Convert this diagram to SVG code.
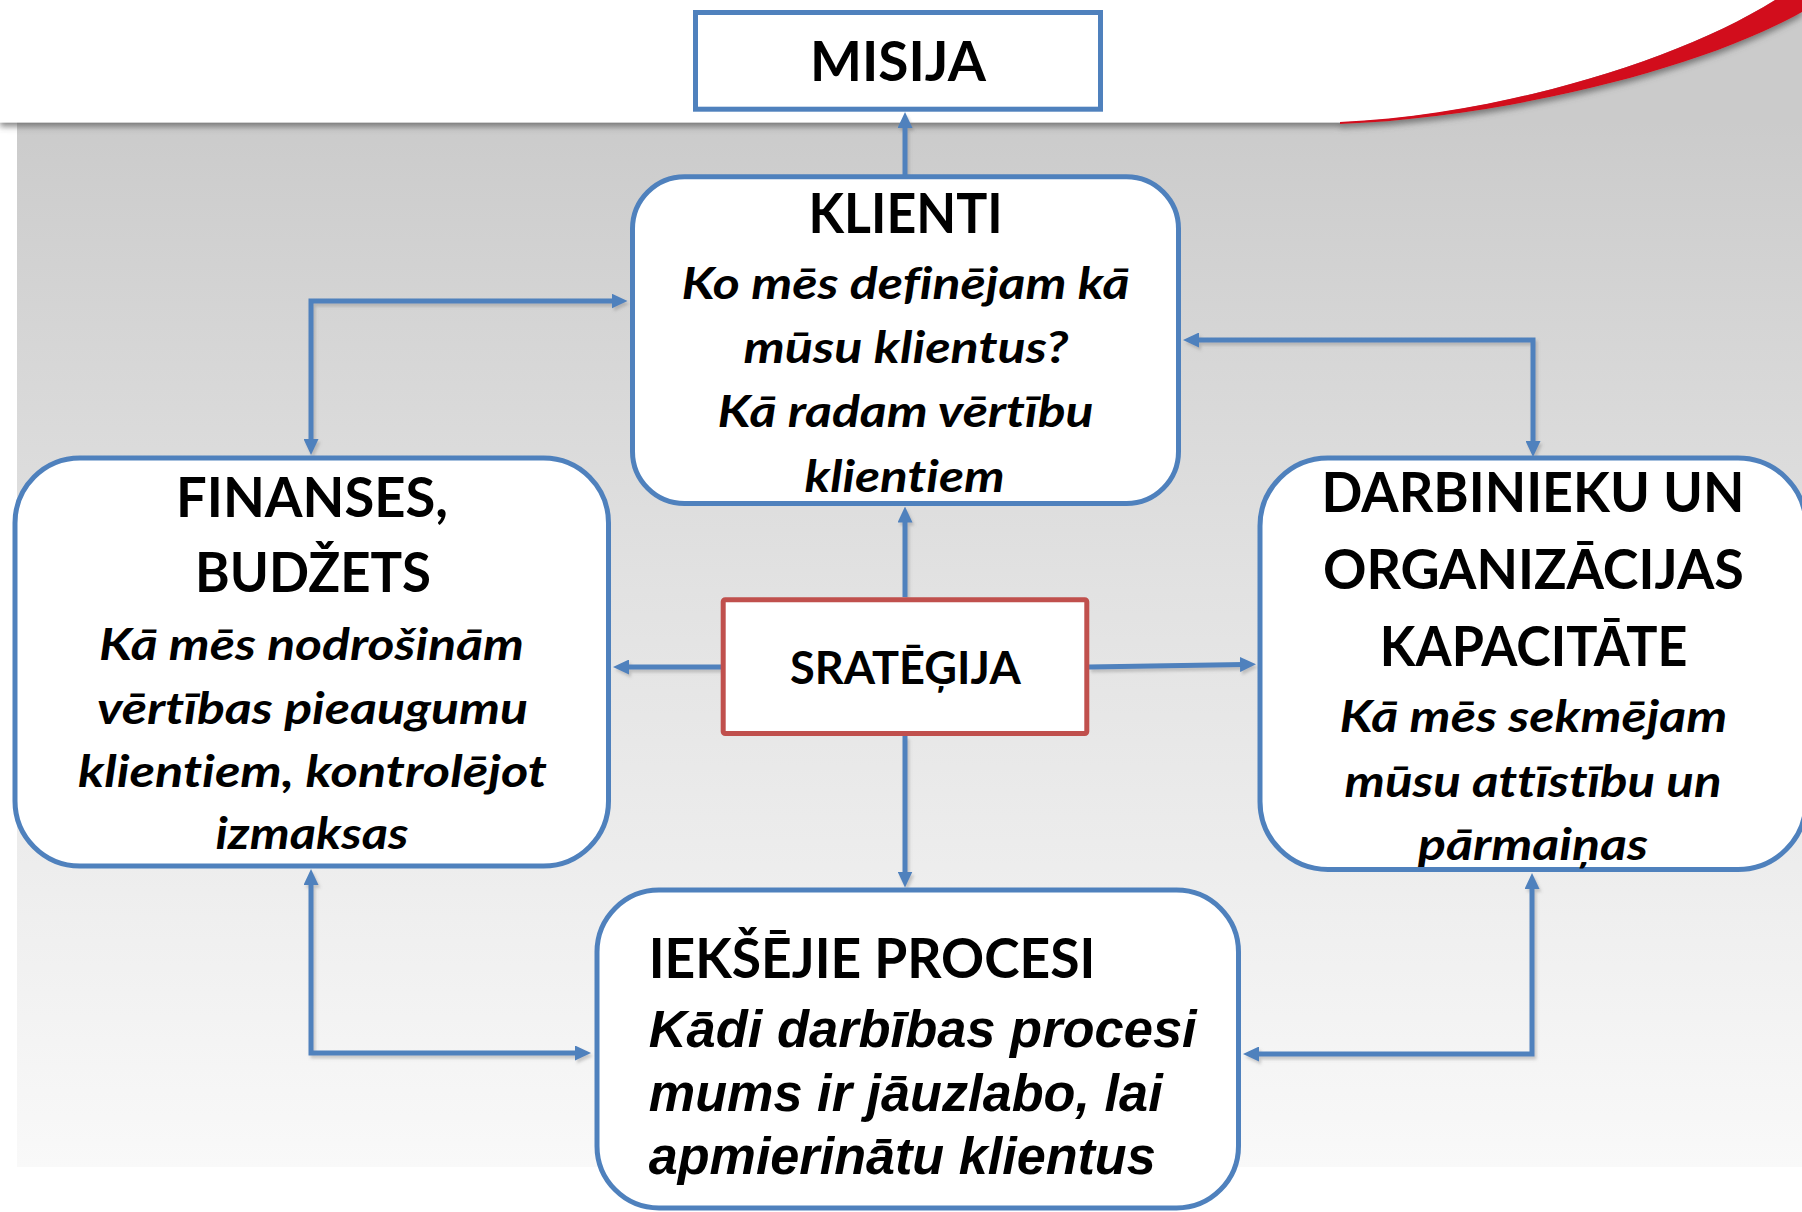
<svg xmlns="http://www.w3.org/2000/svg" width="1802" height="1212" viewBox="0 0 1802 1212">
<style>
.box{fill:#ffffff;stroke:#4F81BD;stroke-width:5}
.sbox{fill:#ffffff;stroke:#C0504D;stroke-width:5}
.conn{fill:none;stroke:#4F81BD;stroke-width:5;stroke-linejoin:miter;marker-end:url(#ah)}
.both{marker-start:url(#ah)}
text{font-variant-ligatures:none;font-feature-settings:"liga" 0,"clig" 0}
.t{font-family:Lato,"Open Sans","Liberation Sans",sans-serif;font-weight:bold;fill:#000;text-anchor:middle}
.h{font-size:55px}
.s{font-size:43px;font-style:italic}
.a{font-family:"Liberation Sans",Arial,sans-serif;font-weight:bold;font-style:italic;font-size:51px;fill:#000}
.hl{font-family:Lato,"Open Sans","Liberation Sans",sans-serif;font-weight:bold;font-size:55px;fill:#000}
</style>
<defs>
<linearGradient id="bg" x1="0" y1="0" x2="0" y2="1">
<stop offset="0" stop-color="#cbcbcb"/>
<stop offset="0.45" stop-color="#e2e2e2"/>
<stop offset="1" stop-color="#f9f9f9"/>
</linearGradient>
<filter id="hs" x="-5%" y="-20%" width="110%" height="150%">
<feDropShadow dx="0" dy="4" stdDeviation="3" flood-color="#555555" flood-opacity="0.7"/>
</filter>
<filter id="ls" x="-10%" y="-10%" width="120%" height="120%">
<feDropShadow dx="2" dy="3" stdDeviation="1.5" flood-color="#777777" flood-opacity="0.35"/>
</filter>
<marker id="ah" markerUnits="userSpaceOnUse" markerWidth="16" markerHeight="15" refX="4" refY="7.5" orient="auto-start-reverse" viewBox="0 0 16 15">
<path d="M0,0 L16,7.5 L0,15 Z" fill="#4F81BD"/>
</marker>
</defs>
<g id="background">
<rect x="0" y="0" width="1802" height="1212" fill="#ffffff"/>
<rect x="17" y="120" width="1785" height="1047" fill="url(#bg)"/>
<rect x="1300" y="0" width="502" height="124" fill="#cbcbcb"/>
<g filter="url(#hs)">
<path d="M0,0 H1775 C1680,60 1500,115 1340,122.5 H0 Z" fill="#ffffff"/>
<path d="M1340,122 C1500,115 1680,60 1775,0 H1802 V12 C1700,70 1500,118 1340,124 Z" fill="#D2091F"/>
</g>
</g>
<g id="connectors" filter="url(#ls)">
<path class="conn" d="M905,177 V124"/>
<path class="conn" d="M905,597 V518.5"/>
<path class="conn" d="M905,736 V875.5"/>
<path class="conn" d="M721,667 H625"/>
<path class="conn" d="M1089,667 L1244,664.5"/>
<path class="conn both" d="M311,443 V301 H615.5"/>
<path class="conn both" d="M1195,340 H1533 V445"/>
<path class="conn both" d="M311,881 V1053 H579"/>
<path class="conn both" d="M1255,1054 H1532 V885"/>
</g>
<g id="misija">
<rect class="box" x="695.5" y="12.5" width="405" height="96.7"/>
<text class="t h" x="898" y="81" textLength="176" lengthAdjust="spacingAndGlyphs">MISIJA</text>
</g>
<g id="klienti">
<rect class="box" x="632.5" y="176.8" width="546" height="326.7" rx="52"/>
<text class="t" x="905.6" y="233.3" font-size="56" textLength="194" lengthAdjust="spacingAndGlyphs">KLIENTI</text>
<text class="t s" x="905.6" y="299" textLength="448" lengthAdjust="spacingAndGlyphs">Ko mēs definējam kā</text>
<text class="t s" x="906" y="362.7" textLength="325" lengthAdjust="spacingAndGlyphs">mūsu klientus?</text>
<text class="t s" x="905.6" y="426.7" textLength="376" lengthAdjust="spacingAndGlyphs">Kā radam vērtību</text>
<text class="t s" x="904.6" y="491.7" textLength="200" lengthAdjust="spacingAndGlyphs">klientiem</text>
</g>
<g id="finanses">
<rect class="box" x="15" y="458" width="593.5" height="408" rx="65"/>
<text class="t h" x="312" y="516.5" textLength="272" lengthAdjust="spacingAndGlyphs">FINANSES,</text>
<text class="t h" x="313" y="592.4" textLength="236" lengthAdjust="spacingAndGlyphs">BUDŽETS</text>
<text class="t s" x="311.4" y="659.6" textLength="425" lengthAdjust="spacingAndGlyphs">Kā mēs nodrošinām</text>
<text class="t s" x="312.5" y="723.6" textLength="431" lengthAdjust="spacingAndGlyphs">vērtības pieaugumu</text>
<text class="t s" x="312.5" y="786.9" textLength="469" lengthAdjust="spacingAndGlyphs">klientiem, kontrolējot</text>
<text class="t s" x="312" y="849.4" textLength="193" lengthAdjust="spacingAndGlyphs">izmaksas</text>
</g>
<g id="darbinieki">
<rect class="box" x="1260" y="458" width="546" height="411.5" rx="68"/>
<text class="t h" x="1533" y="512.4" textLength="423" lengthAdjust="spacingAndGlyphs">DARBINIEKU UN</text>
<text class="t h" x="1533.4" y="589" textLength="421" lengthAdjust="spacingAndGlyphs">ORGANIZĀCIJAS</text>
<text class="t h" x="1533.6" y="665.5" textLength="307.6" lengthAdjust="spacingAndGlyphs">KAPACITĀTE</text>
<text class="t s" x="1533.4" y="732.4" textLength="388" lengthAdjust="spacingAndGlyphs">Kā mēs sekmējam</text>
<text class="t s" x="1533" y="796.7" textLength="377" lengthAdjust="spacingAndGlyphs">mūsu attīstību un</text>
<text class="t s" x="1533" y="859.5" textLength="230" lengthAdjust="spacingAndGlyphs">pārmaiņas</text>
</g>
<g id="strategija">
<rect class="sbox" x="723.2" y="599.8" width="363.6" height="133.7" rx="2"/>
<text class="t" x="905.4" y="684" font-size="45" textLength="230.7" lengthAdjust="spacingAndGlyphs">SRATĒĢIJA</text>
</g>
<g id="procesi">
<rect class="box" x="597" y="890" width="641.5" height="318" rx="62"/>
<text class="hl" x="648.7" y="978.3" textLength="446.6" lengthAdjust="spacingAndGlyphs">IEKŠĒJIE PROCESI</text>
<text class="a" x="648.7" y="1046.7" textLength="548" lengthAdjust="spacingAndGlyphs">Kādi darbības procesi</text>
<text class="a" x="648.7" y="1110.7" textLength="514" lengthAdjust="spacingAndGlyphs">mums ir jāuzlabo, lai</text>
<text class="a" x="648.7" y="1174" textLength="507" lengthAdjust="spacingAndGlyphs">apmierinātu klientus</text>
</g>
</svg>
